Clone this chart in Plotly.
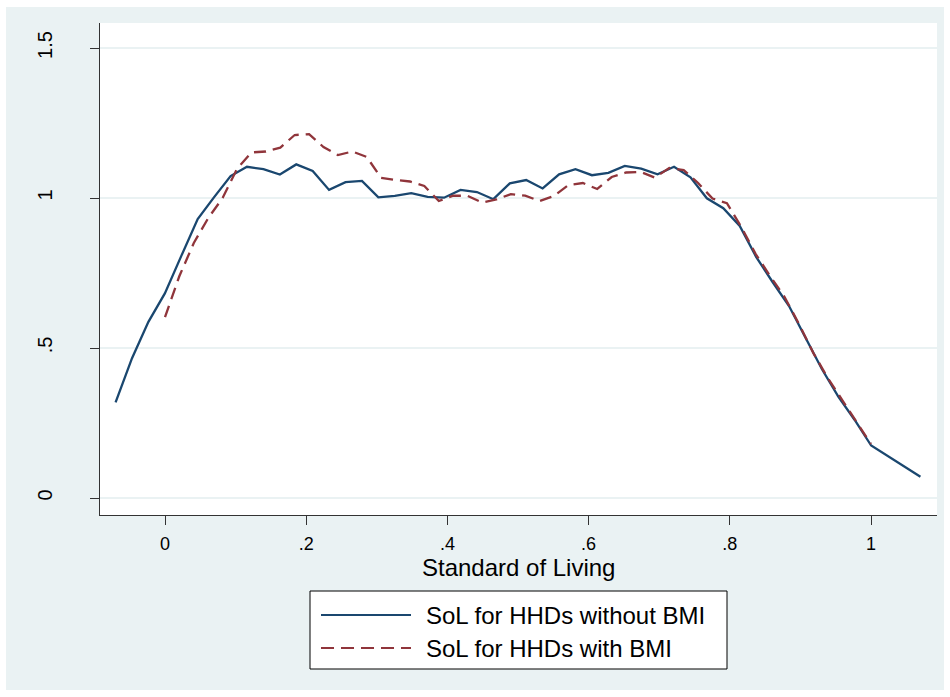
import plotly.graph_objects as go

# ---- data ----
sol_x_without = [-0.070, -0.0467, -0.0235, -0.0002, 0.0231, 0.0463, 0.0696, 0.0929, 0.1161, 0.1394,
                 0.1627, 0.1859, 0.2092, 0.2324, 0.2557, 0.2790, 0.3022, 0.3255, 0.3488, 0.3720,
                 0.3953, 0.4186, 0.4418, 0.4651, 0.4884, 0.5116, 0.5349, 0.5582, 0.5814, 0.6047,
                 0.6280, 0.6512, 0.6745, 0.6977, 0.7210, 0.7443, 0.7675, 0.7908, 0.8141, 0.8373,
                 0.8606, 0.8839, 0.9071, 0.9304, 0.9537, 0.9769, 1.0002, 1.0235, 1.0467, 1.0700]
density_without = [0.319, 0.466, 0.587, 0.682, 0.807, 0.930, 1.003, 1.073, 1.104, 1.096,
                   1.078, 1.112, 1.090, 1.027, 1.053, 1.057, 1.002, 1.007, 1.016, 1.004,
                   1.001, 1.027, 1.020, 0.996, 1.049, 1.060, 1.032, 1.079, 1.096, 1.076,
                   1.084, 1.107, 1.098, 1.079, 1.104, 1.069, 0.999, 0.966, 0.907, 0.804,
                   0.720, 0.640, 0.535, 0.430, 0.338, 0.260, 0.175, 0.140, 0.107, 0.071]

sol_x_with = [0.0, 0.0204, 0.0408, 0.0612, 0.0816, 0.1020, 0.1224, 0.1429, 0.1633, 0.1837,
              0.2041, 0.2245, 0.2449, 0.2653, 0.2857, 0.3061, 0.3265, 0.3469, 0.3673, 0.3878,
              0.4082, 0.4286, 0.4490, 0.4694, 0.4898, 0.5102, 0.5306, 0.5510, 0.5714, 0.5918,
              0.6122, 0.6327, 0.6531, 0.6735, 0.6939, 0.7143, 0.7347, 0.7551, 0.7755, 0.7959,
              0.8163, 0.8367, 0.8571, 0.8776, 0.8980, 0.9184, 0.9388, 0.9592, 0.9796, 1.0]
density_with = [0.603, 0.740, 0.850, 0.933, 1.000, 1.097, 1.152, 1.155, 1.168, 1.210,
                1.213, 1.170, 1.143, 1.155, 1.137, 1.067, 1.060, 1.055, 1.040, 0.990,
                1.008, 1.007, 0.985, 0.995, 1.013, 1.008, 0.990, 1.007, 1.043, 1.050,
                1.030, 1.070, 1.085, 1.087, 1.068, 1.100, 1.093, 1.050, 0.998, 0.983,
                0.903, 0.813, 0.740, 0.670, 0.580, 0.483, 0.400, 0.327, 0.253, 0.180]

x_tick_vals = [0, 0.2, 0.4, 0.6, 0.8, 1]
x_tick_text = ["0", ".2", ".4", ".6", ".8", "1"]
y_tick_vals = [0, 0.5, 1, 1.5]
y_tick_text = ["0", ".5", "1", "1.5"]

series_names = ["SoL for HHDs without BMI", "SoL for HHDs with BMI"]
x_title = "Standard of Living"

# ---- style ----
NAVY = "#1A476F"
MAROON = "#90353B"
BG = "#EAF2F3"
AXIS = "#333333"
FONT = "Liberation Sans, Arial, sans-serif"

W, H = 950, 697
L, R, T, B = 100, 13, 23, 182
PW, PH = W - L - R, H - T - B


def px(xp):
    return (xp - L) / PW


def py(yp):
    return (H - B - yp) / PH


fig = go.Figure()
fig.add_trace(go.Scatter(x=sol_x_without, y=density_without, mode="lines",
                         line=dict(color=NAVY, width=2.3), name=series_names[0],
                         showlegend=False))
fig.add_trace(go.Scatter(x=sol_x_with, y=density_with, mode="lines",
                         line=dict(color=MAROON, width=2.3, dash="12px,7px"),
                         name=series_names[1], showlegend=False))

shapes = [
    # outer graph region
    dict(type="rect", xref="paper", yref="paper", x0=px(6), x1=px(944), y0=py(690), y1=py(7),
         fillcolor=BG, line=dict(width=0), layer="below"),
    # plot region
    dict(type="rect", xref="paper", yref="paper", x0=0, x1=1, y0=0, y1=1,
         fillcolor="white", line=dict(width=0), layer="below"),
    # legend box
    dict(type="rect", xref="paper", yref="paper", x0=px(310), x1=px(727), y0=py(669), y1=py(591),
         fillcolor="white", line=dict(color="black", width=1)),
    # legend samples
    dict(type="line", xref="paper", yref="paper", x0=px(321), x1=px(411), y0=py(615), y1=py(615),
         line=dict(color=NAVY, width=2)),
    dict(type="line", xref="paper", yref="paper", x0=px(321), x1=px(411), y0=py(648), y1=py(648),
         line=dict(color=MAROON, width=2, dash="13px,7px")),
]

annotations = [
    dict(text=x_title, xref="paper", yref="paper", x=0.5, y=py(567),
         xanchor="center", yanchor="middle", showarrow=False, borderpad=0,
         font=dict(family=FONT, size=24, color="black")),
    dict(text=series_names[0], xref="paper", yref="paper", x=px(424), y=py(615),
         xanchor="left", yanchor="middle", showarrow=False,
         font=dict(family=FONT, size=24, color="black")),
    dict(text=series_names[1], xref="paper", yref="paper", x=px(424), y=py(648),
         xanchor="left", yanchor="middle", showarrow=False,
         font=dict(family=FONT, size=24, color="black")),
]

fig.update_layout(
    width=W, height=H,
    margin=dict(l=L, r=R, t=T, b=B),
    paper_bgcolor="white",
    plot_bgcolor="white",
    font=dict(family=FONT, color="black"),
    shapes=shapes,
    annotations=annotations,
    showlegend=False,
    xaxis=dict(
        range=[(100 - 165) / 706, (937 - 165) / 706],
        tickmode="array", tickvals=x_tick_vals, ticktext=x_tick_text,
        ticks="outside", ticklen=9, tickwidth=1, tickcolor=AXIS,
        showline=True, linecolor=AXIS, linewidth=1,
        showgrid=False, zeroline=False,
        tickfont=dict(size=18, family=FONT, color="black"),
        ticklabelstandoff=3,
    ),
    yaxis=dict(
        range=[(498 - 515) / 300, (498 - 23) / 300],
        tickmode="array", tickvals=y_tick_vals, ticktext=y_tick_text,
        tickangle=-90,
        ticks="outside", ticklen=9, tickwidth=1, tickcolor=AXIS,
        showline=True, linecolor=AXIS, linewidth=1,
        showgrid=True, gridcolor=BG, gridwidth=2, zeroline=False,
        tickfont=dict(size=20, family=FONT, color="black"),
        ticklabelstandoff=30,
    ),
)

fig.write_html("out.html", config={"displayModeBar": False},
               post_script="document.body.style.margin='0px';")
